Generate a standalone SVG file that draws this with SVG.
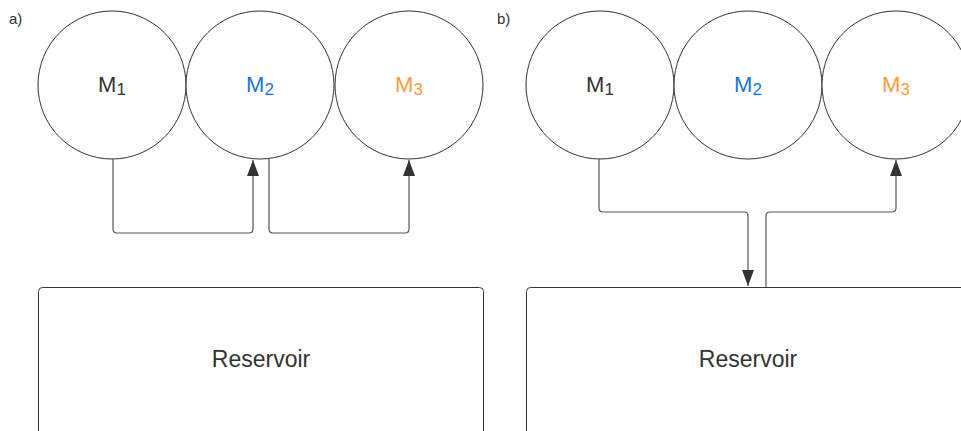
<svg xmlns="http://www.w3.org/2000/svg" width="961" height="431" viewBox="0 0 961 431">
<style>
.c{fill:#fff;stroke:#333;stroke-width:1}
.r{fill:#fff;stroke:#333;stroke-width:1}
.t{font-family:"Liberation Sans",Arial,sans-serif;font-size:22px;fill:#333;text-anchor:middle}
.big{font-size:23px}
.s{font-size:17px}
.lb{font-family:"Liberation Sans",Arial,sans-serif;font-size:15px;fill:#333}
.e{fill:none;stroke:#555;stroke-width:1.2}
.blue{fill:#1a73e8}
.orange{fill:#ff9a3c}
</style>
<defs>
<marker id="ah" viewBox="0 0 16 12" refX="16" refY="6" markerWidth="16" markerHeight="12" markerUnits="userSpaceOnUse" orient="auto">
<path d="M0,0 L16,6 L0,12 Z" fill="#333"/>
</marker>
</defs>
<text class="lb" x="9" y="24">a)</text>
<text class="lb" x="497" y="24">b)</text>
<g id="a-reservoir">
<rect class="r" x="38.5" y="287.5" width="445" height="160" rx="4"/>
<text class="t big" x="261" y="367">Reservoir</text>
</g>
<g id="a-m1">
<circle class="c" cx="112" cy="85" r="74"/>
<text class="t" x="112" y="92">M<tspan class="s" dy="3">1</tspan></text>
</g>
<g id="a-m2">
<circle class="c" cx="260" cy="85" r="74"/>
<text class="t blue" x="260" y="92">M<tspan class="s" dy="3">2</tspan></text>
</g>
<g id="a-m3">
<circle class="c" cx="409" cy="85" r="74"/>
<text class="t orange" x="409" y="92">M<tspan class="s" dy="3">3</tspan></text>
</g>
<g id="b-reservoir">
<rect class="r" x="526.5" y="287.5" width="460" height="160" rx="4"/>
<text class="t big" x="748" y="367">Reservoir</text>
</g>
<g id="b-m1">
<circle class="c" cx="600" cy="85" r="74"/>
<text class="t" x="600" y="92">M<tspan class="s" dy="3">1</tspan></text>
</g>
<g id="b-m2">
<circle class="c" cx="748" cy="85" r="74"/>
<text class="t blue" x="748" y="92">M<tspan class="s" dy="3">2</tspan></text>
</g>
<g id="b-m3">
<circle class="c" cx="896" cy="85" r="74"/>
<text class="t orange" x="896" y="92">M<tspan class="s" dy="3">3</tspan></text>
</g>
<g id="connectors">
<path class="e" d="M113,159 V229 Q113,233 117,233 H249 Q253,233 253,229 V160" marker-end="url(#ah)"/>
<path class="e" d="M269,159 V229 Q269,233 273,233 H405 Q409,233 409,229 V160" marker-end="url(#ah)"/>
<path class="e" d="M599,159 V208 Q599,212 603,212 H744 Q748,212 748,216 V286" marker-end="url(#ah)"/>
<path class="e" d="M766,287 V216 Q766,212 770,212 H892 Q896,212 896,208 V160" marker-end="url(#ah)"/>
</g>
</svg>
